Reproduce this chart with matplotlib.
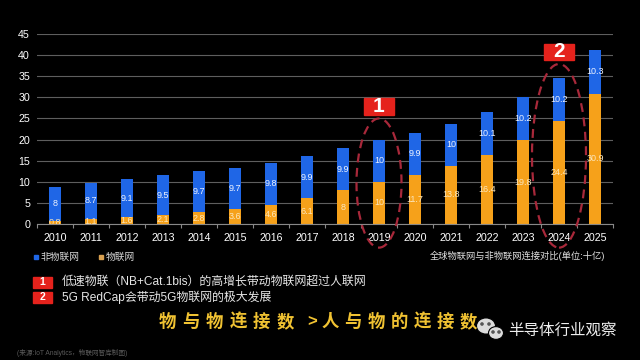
import matplotlib.pyplot as plt
from matplotlib.patches import Ellipse, Rectangle
import numpy as np

plt.rcParams['font.family'] = ['Liberation Sans', 'Noto Sans CJK SC', 'DejaVu Sans']

years = ['2010', '2011', '2012', '2013', '2014', '2015', '2016', '2017',
         '2018', '2019', '2020', '2021', '2022', '2023', '2024', '2025']
iot = [0.8, 1.1, 1.6, 2.1, 2.8, 3.6, 4.6, 6.1, 8, 10, 11.7, 13.8, 16.4, 19.8, 24.4, 30.9]
non_iot = [8, 8.7, 9.1, 9.5, 9.7, 9.7, 9.8, 9.9, 9.9, 10, 9.9, 10, 10.1, 10.2, 10.2, 10.3]
y_ticks = [0, 5, 10, 15, 20, 25, 30, 35, 40, 45]

legend_labels = ['非物联网', '物联网']
chart_note = '全球物联网与非物联网连接对比(单位:十亿)'
notes = ['低速物联（NB+Cat.1bis）的高增长带动物联网超过人联网',
         '5G RedCap会带动5G物联网的极大发展']
highlight_years = ['2019', '2024']
slogan_left = '物与物连接数'
slogan_right = '人与物的连接数'
source = '(来源:IoT Analytics，物联网智库制图)'
brand = '半导体行业观察'

blue = '#1f66e6'
orange = '#f6a11a'
red = '#e5221c'
W, H = 640, 360

fig = plt.figure(figsize=(6.4, 3.6), dpi=100, facecolor='black')
ax = fig.add_axes([37 / W, 1 - 224 / H, 576 / W, 190 / H], facecolor='black')

x = np.arange(len(years))
ax.bar(x, iot, width=0.32, color=orange, zorder=3)
ax.bar(x, non_iot, width=0.32, bottom=iot, color=blue, zorder=3)

for i in range(len(years)):
    ax.text(x[i], iot[i] / 2, f'{iot[i]:g}', ha='center', va='center',
            fontsize=6.5, color='#fbe6bd', zorder=4)
    ax.text(x[i], iot[i] + non_iot[i] / 2, f'{non_iot[i]:g}', ha='center', va='center',
            fontsize=6.5, color='#eef3ff', zorder=4)

ax.set_xlim(-0.5, len(years) - 0.5)
ax.set_ylim(0, 45)
ax.set_yticks(y_ticks)
ax.set_yticklabels([str(v) for v in y_ticks])
ax.set_xticks(x)
ax.set_xticklabels(years)
ax.set_xticks(np.arange(-0.5, len(years)), minor=True)
ax.tick_params(axis='y', length=0, pad=5, labelsize=7.7, labelcolor='white')
ax.tick_params(axis='x', which='major', length=0, pad=6.5, labelsize=7.7, labelcolor='white')
ax.tick_params(axis='x', which='minor', length=3, color='#888888', width=0.8)
ax.grid(axis='y', color='#5e5e5e', lw=0.8, zorder=0)
for s in ['left', 'right', 'top']:
    ax.spines[s].set_visible(False)
ax.spines['bottom'].set_color('#888888')
ax.spines['bottom'].set_linewidth(0.8)
ax.spines['bottom'].set_zorder(5)

# dashed ellipses and numbered red boxes
for k, yr in enumerate(highlight_years):
    i = years.index(yr)
    total = iot[i] + non_iot[i]
    top = total + (5 if k == 0 else 3.3)
    bottom = -5.6
    w = 1.25 if k == 0 else 1.5
    ax.add_patch(Ellipse((i, (top + bottom) / 2), w, top - bottom, fill=False,
                         ec='#a8283a', lw=1.6, ls=(0, (4, 2.5)), zorder=6, clip_on=False))
    by = top + 0.9
    ax.add_patch(Rectangle((i - 0.42, by), 0.84, 3.9, color=red, zorder=6, clip_on=False))
    ax.text(i, by + 1.95, str(k + 1), ha='center', va='center', fontsize=15,
            fontweight='bold', color='white', zorder=7, clip_on=False)

# legend
fig.add_artist(Rectangle((34 / W, 1 - 259 / H), 4 / W, 4 / H, color=blue))
fig.text(41 / W, 1 - 257 / H, legend_labels[0], fontsize=7, color='#d8d8d8', va='center')
fig.add_artist(Rectangle((99 / W, 1 - 259 / H), 4 / W, 4 / H, color='#d8a050'))
fig.text(106 / W, 1 - 257 / H, legend_labels[1], fontsize=7, color='#d8d8d8', va='center')
fig.text(605 / W, 1 - 256 / H, chart_note, fontsize=6.7, color='#e0e0e0', va='center', ha='right')

# notes
for k, note in enumerate(notes):
    yc = 282 + 15 * k
    fig.add_artist(Rectangle((33 / W, 1 - (yc + 5.5) / H), 19 / W, 11 / H, color=red))
    fig.text(42.5 / W, 1 - yc / H, str(k + 1), fontsize=7.5, fontweight='bold',
             color='white', ha='center', va='center')
    fig.text(62 / W, 1 - yc / H, note, fontsize=8.6, color='#e6e6e6', va='center')

# slogan
gold = '#f0c232'
for i, ch in enumerate(slogan_left):
    fig.text((167.5 + 23.5 * i) / W, 1 - 322 / H, ch, fontsize=12.5, fontweight='bold',
             color=gold, ha='center', va='center', family=['Noto Sans CJK SC'])
fig.text(312 / W, 1 - 322 / H, '>', fontsize=12, fontweight='bold',
         color=gold, ha='center', va='center')
for i, ch in enumerate(slogan_right):
    fig.text((330 + 23 * i) / W, 1 - 322 / H, ch, fontsize=12.5, fontweight='bold',
             color=gold, ha='center', va='center', family=['Noto Sans CJK SC'])

# wechat-like icon and brand
for (cx, cy, r) in [(486, 326, 9.5), (496, 333, 7.5)]:
    fig.add_artist(Ellipse((cx / W, 1 - cy / H), 2 * r / W, 1.7 * r / H,
                           fc='#dcdcdc', ec='black', lw=0.8))
for (ex, ey) in [(482, 324), (489, 324), (493, 332), (499, 332)]:
    fig.add_artist(Ellipse((ex / W, 1 - ey / H), 2.2 / W, 2.2 / H, color='#555555'))
fig.text(508 / W, 1 - 330 / H, brand, fontsize=11.2, color='#eeeeee', va='center',
         family=['Noto Sans CJK SC'])

fig.text(17 / W, 1 - 353 / H, source, fontsize=4.8, color='#5a5a5a', va='center')

fig.savefig('out.png', dpi=100, facecolor='black')
